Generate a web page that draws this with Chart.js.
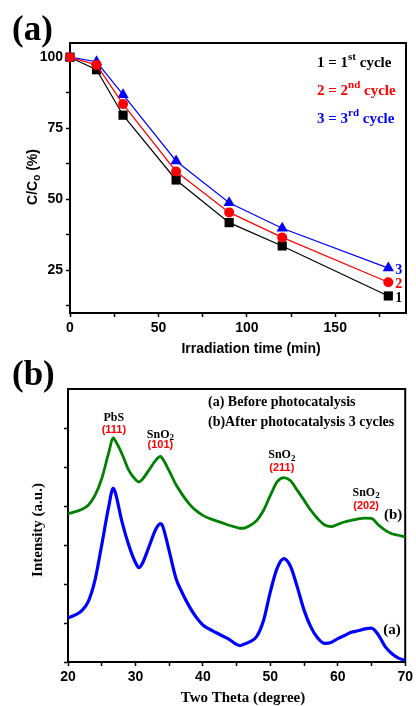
<!DOCTYPE html>
<html>
<head>
<meta charset="utf-8">
<script src="https://cdn.jsdelivr.net/npm/chart.js@4.4.1/dist/chart.umd.min.js"></script>
<style>
  html, body { margin: 0; padding: 0; background: #fff; }
  #wrap { position: relative; width: 416px; height: 706px; overflow: hidden; }
  canvas { position: absolute; left: 0; }
  #chartA { top: 0; }
  #chartB { top: 340px; }
</style>
</head>
<body>
<div id="wrap">
  <canvas id="chartA" width="416" height="362"></canvas>
  <canvas id="chartB" width="416" height="366"></canvas>
</div>
<script>
// (a) C/Co over three photocatalysis cycles
var timeMin = [0, 15, 30, 60, 90, 120, 180];
var cycle1 = [100, 95.6, 79.6, 56.8, 41.8, 33.6, 16.0];
var cycle2 = [100, 97.3, 83.5, 59.8, 45.4, 36.6, 20.8];
var cycle3 = [100, 98.4, 86.8, 63.5, 48.8, 39.8, 25.8];
var timeTicks = [0, 25, 50, 75, 100, 125, 150, 175];
var timeLabels = [0, 50, 100, 150];
var ratioTicks = [12.5, 25, 37.5, 50, 62.5, 75, 87.5, 100];
var ratioLabels = [25, 50, 75, 100];

// (b) XRD patterns
var twoTheta = [20, 21, 22, 23, 24, 25, 26, 26.7, 27, 28, 29, 30, 30.5, 31, 32, 33, 33.7, 34, 35, 36,
                37, 38, 39, 40, 41, 42, 43, 44, 45, 45.5, 46, 47, 48, 49, 50, 51, 52, 53, 54, 55,
                56, 57, 58, 59, 60, 61, 62, 63, 64, 65, 66, 67, 68, 69, 70];
var xrdBefore = [1.13, 1.2, 1.31, 1.55, 2.1, 3.0, 3.95, 4.45, 4.35, 3.6, 3.0, 2.55, 2.42, 2.52, 2.95, 3.4, 3.55, 3.5, 2.85, 2.15,
                 1.75, 1.42, 1.15, 0.95, 0.84, 0.75, 0.66, 0.57, 0.45, 0.42, 0.45, 0.52, 0.66, 1.07, 1.8, 2.4, 2.65, 2.45, 1.92, 1.33,
                 0.9, 0.62, 0.48, 0.5, 0.6, 0.68, 0.76, 0.8, 0.85, 0.87, 0.7, 0.4, 0.22, 0.1, 0.04];
var xrdAfter = [3.8, 3.85, 3.91, 4.02, 4.27, 4.7, 5.34, 5.75, 5.68, 5.34, 4.92, 4.68, 4.62, 4.68, 4.92, 5.17, 5.27, 5.22, 4.9, 4.55,
                4.28, 4.05, 3.88, 3.76, 3.68, 3.62, 3.56, 3.5, 3.45, 3.43, 3.43, 3.5, 3.63, 3.89, 4.27, 4.62, 4.73, 4.65, 4.4, 4.15,
                3.89, 3.68, 3.52, 3.47, 3.53, 3.59, 3.63, 3.67, 3.69, 3.68, 3.52, 3.38, 3.29, 3.25, 3.21];
var thetaTicks = [20, 25, 30, 35, 40, 45, 50, 55, 60, 65, 70];
var thetaLabels = [20, 30, 40, 50, 60, 70];
var intensityTicks = [0, 1, 2, 3, 4, 5, 6];

// peak labels: position in (2theta, intensity)
var peaks = [
  { phase: 'PbS', sub: '',  hkl: '(111)', x: 26.8, yName: 6.25, yHkl: 5.94 },
  { phase: 'SnO', sub: '2', hkl: '(101)', x: 33.7, yName: 5.83, yHkl: 5.56 },
  { phase: 'SnO', sub: '2', hkl: '(211)', x: 51.7, yName: 5.3,  yHkl: 4.98 },
  { phase: 'SnO', sub: '2', hkl: '(202)', x: 64.2, yName: 4.33, yHkl: 3.99 }
];

var SANS = '"Liberation Sans", Arial, sans-serif';
var SERIF = '"Liberation Serif", "Times New Roman", serif';

function pts(xs, ys) {
  return xs.map(function (x, i) { return { x: x, y: ys[i] }; });
}

// draws a row of text pieces (for sub/superscripts)
function drawParts(ctx, x, y, parts, align) {
  var total = 0;
  parts.forEach(function (p) { ctx.font = p.font; p.w = ctx.measureText(p.text).width; total += p.w; });
  var cx = align === 'center' ? x - total / 2 : (align === 'right' ? x - total : x);
  ctx.textAlign = 'left';
  parts.forEach(function (p) {
    ctx.font = p.font;
    ctx.fillStyle = p.color || '#000';
    ctx.fillText(p.text, cx, y + (p.dy || 0));
    cx += p.w;
  });
}

function frame(chart) {
  var a = chart.chartArea, ctx = chart.ctx;
  ctx.save();
  ctx.strokeStyle = '#000';
  ctx.lineWidth = 2;
  ctx.strokeRect(a.left, a.top, a.right - a.left, a.bottom - a.top);
  ctx.restore();
}

function axisCfg(ticks, labels, size, showLabels) {
  return {
    type: 'linear',
    afterBuildTicks: function (s) { s.ticks = ticks.map(function (v) { return { value: v }; }); },
    grid: { drawOnChartArea: false, color: '#000', tickLength: 4, tickWidth: 1.5 },
    border: { color: '#000', width: 2 },
    ticks: {
      color: '#000', padding: 3, autoSkip: false, maxRotation: 0,
      font: { family: SANS, size: size, weight: 'bold' },
      callback: function (v) { return showLabels && labels.indexOf(v) >= 0 ? String(v) : ''; }
    }
  };
}

/* ---------- (a) ---------- */
var decorA = {
  id: 'decorA',
  beforeDatasetsDraw: frame,
  afterDraw: function (chart) {
    var ctx = chart.ctx, a = chart.chartArea, xs = chart.scales.x, ys = chart.scales.y;
    ctx.save();
    ctx.textBaseline = 'alphabetic';
    ctx.fillStyle = '#000';
    ctx.font = 'bold 35px ' + SERIF;
    ctx.fillText('(a)', 12, 40);

    // legend
    var cycles = [['1', 'st', '#000'], ['2', 'nd', '#ff0000'], ['3', 'rd', '#0000ff']];
    cycles.forEach(function (c, i) {
      var f = 'bold 15px ' + SERIF, fs = 'bold 11px ' + SERIF;
      drawParts(ctx, a.left + 247, a.top + 24 + i * 28, [
        { text: c[0] + ' = ' + c[0], font: f, color: c[2] },
        { text: c[1], font: fs, color: c[2], dy: -7 },
        { text: ' cycle', font: f, color: c[2] }
      ], 'left');
    });

    // end labels
    ctx.textBaseline = 'middle';
    ctx.font = 'bold 14px ' + SERIF;
    var last = timeMin.length - 1;
    [[cycle1, '1', '#000'], [cycle2, '2', '#ff0000'], [cycle3, '3', '#0000ff']].forEach(function (c) {
      ctx.fillStyle = c[2];
      ctx.fillText(c[1], xs.getPixelForValue(timeMin[last]) + 7, ys.getPixelForValue(c[0][last]) + 2);
    });

    // axis titles
    ctx.fillStyle = '#000';
    ctx.font = 'bold 14px ' + SANS;
    ctx.textAlign = 'center';
    ctx.fillText('Irradiation time (min)', 251, 349);
    ctx.translate(33, 177);
    ctx.rotate(-Math.PI / 2);
    drawParts(ctx, 0, 0, [
      { text: 'C/C', font: 'bold 14px ' + SANS },
      { text: 'o', font: 'bold 10px ' + SANS, dy: 4 },
      { text: ' (%)', font: 'bold 14px ' + SANS }
    ], 'center');
    ctx.restore();
  }
};

var xA = axisCfg(timeTicks, timeLabels, 14, true);
xA.min = 0; xA.max = 190;
xA.afterFit = function (s) { s.height = 49; };
var yA = axisCfg(ratioTicks, ratioLabels, 14, true);
yA.min = 10; yA.max = 105;
yA.afterFit = function (s) { s.width = 70; };

new Chart(document.getElementById('chartA'), {
  type: 'line',
  data: {
    datasets: [
      { label: '1', data: pts(timeMin, cycle1), borderColor: '#000', backgroundColor: '#000',
        pointStyle: 'rect', pointRadius: 6.5, order: 2 },
      { label: '2', data: pts(timeMin, cycle2), borderColor: '#ff0000', backgroundColor: '#ff0000',
        pointStyle: 'circle', pointRadius: 5, order: 0 },
      { label: '3', data: pts(timeMin, cycle3), borderColor: '#0000ff', backgroundColor: '#0000ff',
        pointStyle: 'triangle', pointRadius: 6.5, order: 1 }
    ].map(function (d) {
      d.borderWidth = 1.2; d.pointBorderWidth = 0; d.pointHoverRadius = d.pointRadius;
      d.clip = false; d.tension = 0;
      return d;
    })
  },
  options: {
    responsive: false,
    animation: false,
    layout: { padding: { top: 43, right: 10, left: 0, bottom: 0 } },
    plugins: { legend: { display: false }, tooltip: { enabled: false } },
    scales: { x: xA, y: yA }
  },
  plugins: [decorA]
});

/* ---------- (b) ---------- */
var decorB = {
  id: 'decorB',
  beforeDatasetsDraw: frame,
  afterDraw: function (chart) {
    var ctx = chart.ctx, a = chart.chartArea, xs = chart.scales.x, ys = chart.scales.y;
    ctx.save();
    ctx.textBaseline = 'alphabetic';
    ctx.fillStyle = '#000';
    ctx.font = 'bold 35px ' + SERIF;
    ctx.fillText('(b)', 12, 45);

    ctx.font = 'bold 14px ' + SERIF;
    ctx.fillText('(a) Before photocatalysis', a.left + 140, a.top + 17);
    ctx.fillText('(b)After photocatalysis 3 cycles', a.left + 140, a.top + 37);

    ctx.textBaseline = 'middle';
    peaks.forEach(function (p) {
      var px = xs.getPixelForValue(p.x);
      var parts = [{ text: p.phase, font: 'bold 12px ' + SERIF }];
      if (p.sub) parts.push({ text: p.sub, font: 'bold 9px ' + SERIF, dy: 3 });
      drawParts(ctx, px, ys.getPixelForValue(p.yName), parts, 'center');
      drawParts(ctx, px, ys.getPixelForValue(p.yHkl),
        [{ text: p.hkl, font: 'bold 11px ' + SANS, color: '#ff0000' }], 'center');
    });

    ctx.fillStyle = '#000';
    ctx.textAlign = 'center';
    ctx.font = 'bold 15px ' + SERIF;
    ctx.fillText('(b)', xs.getPixelForValue(68.2), ys.getPixelForValue(3.76));
    ctx.fillText('(a)', xs.getPixelForValue(68.05), ys.getPixelForValue(0.81));

    ctx.fillText('Two Theta (degree)', 243, 358);
    ctx.translate(38, 190);
    ctx.rotate(-Math.PI / 2);
    ctx.fillText('Intensity (a.u.)', 0, 0);
    ctx.restore();
  }
};

var xB = axisCfg(thetaTicks, thetaLabels, 14, true);
xB.min = 20; xB.max = 70;
xB.afterFit = function (s) { s.height = 44; };
var yB = axisCfg(intensityTicks, [], 14, false);
yB.min = 0; yB.max = 7;
yB.afterFit = function (s) { s.width = 68; };

new Chart(document.getElementById('chartB'), {
  type: 'line',
  data: {
    datasets: [
      { label: '(b)', data: pts(twoTheta, xrdAfter), borderColor: '#008000', borderWidth: 2.8 },
      { label: '(a)', data: pts(twoTheta, xrdBefore), borderColor: '#0000ff', borderWidth: 3.2 }
    ].map(function (d) {
      d.pointRadius = 0; d.cubicInterpolationMode = 'monotone'; d.fill = false;
      return d;
    })
  },
  options: {
    responsive: false,
    animation: false,
    layout: { padding: { top: 49, right: 10, left: 0, bottom: 0 } },
    plugins: { legend: { display: false }, tooltip: { enabled: false } },
    scales: { x: xB, y: yB }
  },
  plugins: [decorB]
});
</script>
</body>
</html>
